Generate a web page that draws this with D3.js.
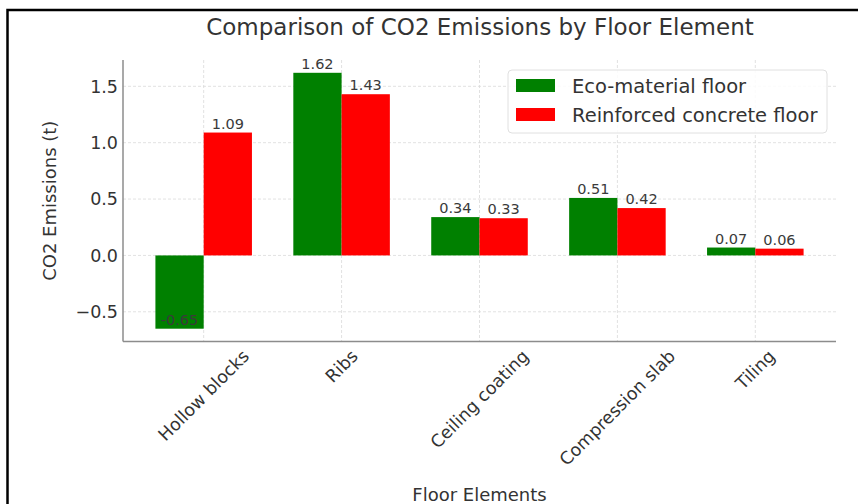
<!DOCTYPE html>
<html>
<head>
<meta charset="utf-8">
<script src="https://cdn.jsdelivr.net/npm/d3@7"></script>
<style>
  html, body { margin: 0; padding: 0; background: #fff; }
  svg { display: block; font-family: "DejaVu Sans", sans-serif; }
</style>
</head>
<body>
<svg id="chart" width="858" height="504"></svg>
<script>
// Floor elements and CO2 emissions (tonnes) per floor type
const categories = ["Hollow blocks", "Ribs", "Ceiling coating", "Compression slab", "Tiling"];
const ecoFloor = [-0.65, 1.62, 0.34, 0.51, 0.07];
const concreteFloor = [1.09, 1.43, 0.33, 0.42, 0.06];
const seriesNames = ["Eco-material floor", "Reinforced concrete floor"];
const seriesColors = ["#008000", "#ff0000"];
const yTicks = [-0.5, 0.0, 0.5, 1.0, 1.5];

const svg = d3.select("#chart");
const W = 858, H = 504;
const plot = { left: 123, right: 836, top: 60, bottom: 341.5 };

// Figure frame (top and left edges)
svg.append("path")
  .attr("d", `M7.5,${H} L7.5,10 L${W},10`)
  .attr("fill", "none").attr("stroke", "#000").attr("stroke-width", 2.5);

const barW = 0.35;
const n = categories.length;
const allVals = ecoFloor.concat(concreteFloor);
const yMin = Math.min(0, d3.min(allVals)), yMax = d3.max(allVals);
const yPad = (yMax - yMin) * 0.05;
const xLo = -barW, xHi = (n - 1) + barW;
const xPad = (xHi - xLo) * 0.05;

const x = d3.scaleLinear().domain([xLo - xPad, xHi + xPad]).range([plot.left, plot.right]);
const y = d3.scaleLinear().domain([yMin - yPad, yMax + yPad]).range([plot.bottom, plot.top]);

// Grid lines
const grid = svg.append("g").attr("stroke", "#d9d9d9").attr("stroke-width", 0.8).attr("stroke-dasharray", "3,2");
grid.selectAll("line.gy").data(yTicks).join("line")
  .attr("x1", plot.left).attr("x2", plot.right)
  .attr("y1", d => y(d)).attr("y2", d => y(d));
grid.selectAll("line.gx").data(d3.range(n)).join("line")
  .attr("x1", d => x(d)).attr("x2", d => x(d))
  .attr("y1", plot.top).attr("y2", plot.bottom);

// Bars
const series = [ecoFloor, concreteFloor];
series.forEach((vals, s) => {
  const off = s === 0 ? -barW / 2 : barW / 2;
  svg.append("g").selectAll("rect").data(vals).join("rect")
    .attr("x", (d, i) => x(i + off - barW / 2))
    .attr("width", (d, i) => x(i + off + barW / 2) - x(i + off - barW / 2))
    .attr("y", d => y(Math.max(0, d)))
    .attr("height", d => Math.abs(y(d) - y(0)))
    .attr("fill", seriesColors[s]);
  // Value labels, placed just above each bar's end value
  svg.append("g").selectAll("text").data(vals).join("text")
    .attr("x", (d, i) => x(i + off))
    .attr("y", d => y(d) - 4)
    .attr("text-anchor", "middle")
    .attr("font-size", 14.5)
    .attr("fill", "#3a3a3a")
    .text(d => d.toFixed(2));
});

// Axis spines
svg.append("line").attr("x1", plot.left).attr("x2", plot.left)
  .attr("y1", plot.top).attr("y2", plot.bottom)
  .attr("stroke", "#8c8c8c").attr("stroke-width", 1.5);
svg.append("line").attr("x1", plot.left).attr("x2", plot.right)
  .attr("y1", plot.bottom).attr("y2", plot.bottom)
  .attr("stroke", "#8c8c8c").attr("stroke-width", 1.5);

// Y tick labels
const fmt = d3.format(".1f");
svg.append("g").selectAll("text").data(yTicks).join("text")
  .attr("x", plot.left - 5)
  .attr("y", d => y(d))
  .attr("dy", "0.36em")
  .attr("text-anchor", "end")
  .attr("font-size", 17.5)
  .attr("fill", "#333")
  .text(d => fmt(d).replace("-", "\u2212"));

// X tick labels, rotated 45 degrees and centred under each category
const xl = svg.append("g");
const xFont = 17.5;
categories.forEach((c, i) => {
  const t = xl.append("text")
    .attr("font-size", xFont)
    .attr("fill", "#333")
    .attr("text-anchor", "middle")
    .attr("dominant-baseline", "central")
    .text(c);
  const L = t.node().getComputedTextLength();
  const half = (L + xFont * 0.9) * Math.SQRT1_2 / 2;
  const cx = x(i), cy = plot.bottom + 6 + half;
  t.attr("transform", `translate(${cx},${cy}) rotate(-45)`);
});

// Axis titles
svg.append("text")
  .attr("transform", `translate(56,${(plot.top + plot.bottom) / 2}) rotate(-90)`)
  .attr("text-anchor", "middle")
  .attr("font-size", 18)
  .attr("fill", "#333")
  .text("CO2 Emissions (t)");
svg.append("text")
  .attr("x", (plot.left + plot.right) / 2)
  .attr("y", 501)
  .attr("text-anchor", "middle")
  .attr("font-size", 18)
  .attr("fill", "#333")
  .text("Floor Elements");

// Title
svg.append("text")
  .attr("x", 480)
  .attr("y", 35)
  .attr("text-anchor", "middle")
  .attr("font-size", 23)
  .attr("fill", "#333")
  .text("Comparison of CO2 Emissions by Floor Element");

// Legend
const lg = svg.append("g").attr("transform", "translate(508,70)");
lg.append("rect").attr("width", 319).attr("height", 63).attr("rx", 4)
  .attr("fill", "#fff").attr("fill-opacity", 0.85)
  .attr("stroke", "#e0e0e0").attr("stroke-width", 1);
seriesNames.forEach((name, s) => {
  lg.append("rect").attr("x", 8).attr("y", 9 + s * 29).attr("width", 39).attr("height", 13)
    .attr("fill", seriesColors[s]);
  lg.append("text").attr("x", 64).attr("y", 15.5 + s * 29).attr("dy", "0.36em")
    .attr("font-size", 19.5).attr("fill", "#333").text(name);
});
</script>
</body>
</html>
